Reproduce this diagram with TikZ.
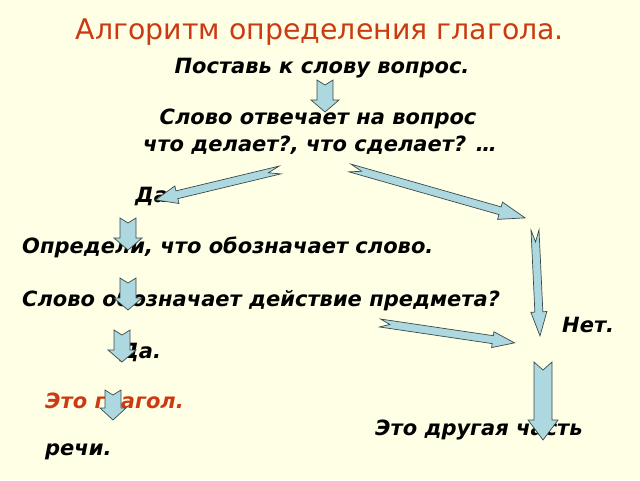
\documentclass[tikz,border=0pt]{standalone}
\usepackage{fontspec}
\setmainfont{DejaVu Sans}
\definecolor{bg}{HTML}{FFFFE5}
\definecolor{ttl}{HTML}{CC3A14}
\definecolor{afill}{HTML}{ADD8E0}
\definecolor{aline}{HTML}{3A4A4A}
\tikzset{txt/.style={font=\fontsize{21}{24}\selectfont\bfseries\itshape, inner sep=0pt, anchor=base west},
 arr/.style={fill=afill, draw=aline, line width=0.7pt, line join=miter}}
% #1 start, #2 angle, #3 length, #4 shaft half width, #5 head half width, #6 head length, #7 notch
\newcommand\barrow[7]{\filldraw[arr,shift={#1},rotate=-#2] (#7,0) -- (0,#4) -- (#3-#6,#4) -- (#3-#6,#5) -- (#3,0) -- (#3-#6,-#5) -- (#3-#6,-#4) -- (0,-#4) -- cycle;}
\begin{document}
\begin{tikzpicture}[x=1pt,y=-1pt]
\fill[bg] (0,0) rectangle (640,480);
\useasboundingbox (0,0) rectangle (640,480);
\node[font=\fontsize{28.4}{32}\selectfont, text=ttl, anchor=base] (title) at (320,39) {Алгоритм определения глагола.};
\node[txt, anchor=base] (t1) at (322,73) {Поставь к слову вопрос.};
\node[txt, anchor=base] (t2) at (318,124) {Слово отвечает на вопрос};
\node[txt, anchor=base] (t3) at (320,151) {что делает?, что сделает? …};
\node[txt] (t4) at (135,202) {Да.};
\node[txt] (t5) at (22,253) {Определи, что обозначает слово.};
\node[txt] (t6) at (22,306) {Слово обозначает действие предмета?};
\node[txt] (t7) at (562,332) {Нет.};
\node[txt] (t8) at (120,358) {Да.};
\node[txt, text=ttl] (t9) at (45,408) {Это глагол.};
\node[txt] (t10) at (375,435) {Это другая часть};
\node[txt] (t11) at (45,455) {речи.};
\barrow{(325,80)}{90}{32}{8}{14}{12}{5}
\barrow{(280,170)}{166.5}{128}{4}{9}{22}{12}
\barrow{(350,168)}{15.9}{182}{4}{9}{26}{12}
\barrow{(535,230)}{87.3}{106}{4}{8}{24}{12}
\barrow{(128,218)}{90}{32}{8}{14}{12}{5}
\barrow{(128,278)}{90}{32}{8}{14}{12}{5}
\barrow{(122,330)}{90}{32}{8}{14}{12}{5}
\barrow{(380,323)}{8.4}{136}{4}{8}{22}{10}
\barrow{(543,362)}{90}{78}{9}{15}{20}{8}
\barrow{(113,390)}{90}{30}{8}{13}{12}{5}
\end{tikzpicture}
\end{document}
